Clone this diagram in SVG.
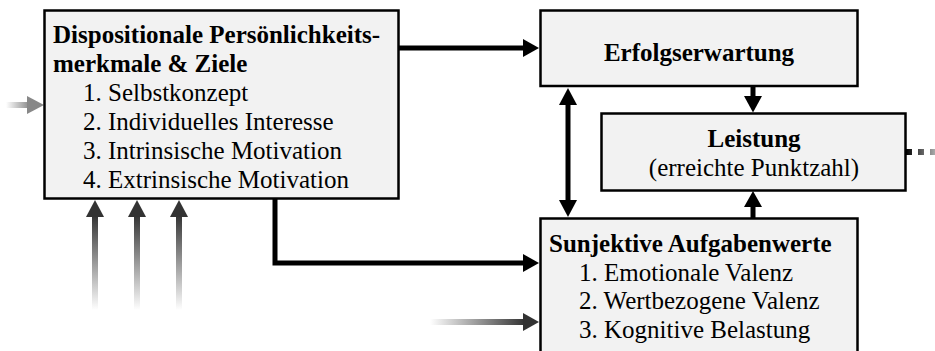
<svg xmlns="http://www.w3.org/2000/svg" width="935" height="351" viewBox="0 0 935 351">
  <defs>
    <linearGradient id="gLeft" gradientUnits="userSpaceOnUse" x1="6" y1="0" x2="30" y2="0">
      <stop offset="0" stop-color="#ffffff"/>
      <stop offset="1" stop-color="#888888"/>
    </linearGradient>
    <linearGradient id="gUp" gradientUnits="userSpaceOnUse" x1="0" y1="310" x2="0" y2="215">
      <stop offset="0" stop-color="#ffffff"/>
      <stop offset="1" stop-color="#333333"/>
    </linearGradient>
    <linearGradient id="gRight" gradientUnits="userSpaceOnUse" x1="430" y1="0" x2="525" y2="0">
      <stop offset="0" stop-color="#ffffff"/>
      <stop offset="1" stop-color="#333333"/>
    </linearGradient>
    <linearGradient id="gDots" gradientUnits="userSpaceOnUse" x1="906" y1="0" x2="935" y2="0">
      <stop offset="0" stop-color="#000000"/>
      <stop offset="1" stop-color="#aaaaaa"/>
    </linearGradient>
  </defs>
  <style>
    .box { fill: #f2f2f2; stroke: #000; stroke-width: 2.5; }
    .t { font-family: "Liberation Serif", "Times New Roman", serif; font-size: 25px; fill: #000; }
    .b { font-weight: bold; }
    .c { text-anchor: middle; }
    .ln { fill: none; stroke: #000; stroke-width: 5; }
    .ah { fill: #000; }
  </style>

  <g id="connectors">
    <!-- Box1 -> Erfolgserwartung -->
    <line class="ln" x1="399" y1="48" x2="525" y2="48"/>
    <polygon class="ah" points="539,48 523,39 523,57"/>
    <!-- Erfolgserwartung -> Leistung -->
    <line class="ln" x1="753" y1="86" x2="753" y2="99"/>
    <polygon class="ah" points="753,112.5 744,96 762,96"/>
    <!-- double arrow Erfolgserwartung <-> Aufgabenwerte -->
    <line class="ln" x1="568" y1="100" x2="568" y2="205"/>
    <polygon class="ah" points="568,88 559,105 577,105"/>
    <polygon class="ah" points="568,217 559,200 577,200"/>
    <!-- Aufgabenwerte -> Leistung -->
    <line class="ln" x1="753" y1="218" x2="753" y2="205"/>
    <polygon class="ah" points="753,191 744,207 762,207"/>
    <!-- Box1 bottom -> Aufgabenwerte -->
    <path class="ln" d="M275 198 V263 H525"/>
    <polygon class="ah" points="539,263 523,254 523,272"/>
    <!-- dotted output from Leistung -->
    <line x1="906" y1="152" x2="935" y2="152" stroke="url(#gDots)" stroke-width="6" stroke-dasharray="6 6"/>
    <!-- gray incoming arrows -->
    <rect x="6" y="102" width="22" height="6" fill="url(#gLeft)"/>
    <polygon points="44,105 27,96 27,114" fill="#888888"/>
    <rect x="92" y="215" width="6" height="95" fill="url(#gUp)"/>
    <polygon points="95,200 86,217 104,217" fill="#333333"/>
    <rect x="134" y="215" width="6" height="95" fill="url(#gUp)"/>
    <polygon points="137,200 128,217 146,217" fill="#333333"/>
    <rect x="176" y="215" width="6" height="95" fill="url(#gUp)"/>
    <polygon points="179,200 170,217 188,217" fill="#333333"/>
    <rect x="430" y="319" width="95" height="6" fill="url(#gRight)"/>
    <polygon points="539,322 523,313 523,331" fill="#333333"/>
  </g>

  <g id="dispositionale">
    <rect class="box" x="44.5" y="10.5" width="354" height="188"/>
    <text class="t b" x="53" y="43">Dispositionale Persönlichkeits-</text>
    <text class="t b" x="53" y="72">merkmale &amp; Ziele</text>
    <text class="t" x="83" y="101">1. Selbstkonzept</text>
    <text class="t" x="83" y="130">2. Individuelles Interesse</text>
    <text class="t" x="83" y="159">3. Intrinsische Motivation</text>
    <text class="t" x="83" y="188">4. Extrinsische Motivation</text>
  </g>

  <g id="erfolgserwartung">
    <rect class="box" x="540.5" y="10.5" width="317" height="75.5"/>
    <text class="t b c" x="699" y="61">Erfolgserwartung</text>
  </g>

  <g id="leistung">
    <rect class="box" x="601.5" y="113.5" width="304" height="77"/>
    <text class="t b c" x="754" y="147">Leistung</text>
    <text class="t c" x="754" y="176">(erreichte Punktzahl)</text>
  </g>

  <g id="aufgabenwerte">
    <rect class="box" x="540.5" y="218.5" width="317" height="150"/>
    <text class="t b" x="549" y="252">Sunjektive Aufgabenwerte</text>
    <text class="t" x="579" y="281">1. Emotionale Valenz</text>
    <text class="t" x="579" y="309">2. Wertbezogene Valenz</text>
    <text class="t" x="579" y="338">3. Kognitive Belastung</text>
  </g>
</svg>
